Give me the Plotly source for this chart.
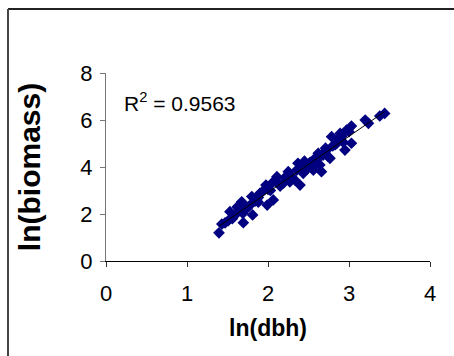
import numpy as np
import plotly.graph_objects as go

# ln(dbh) and ln(biomass) values
ln_dbh = [1.395, 1.43, 1.47, 1.51, 1.53, 1.56, 1.59, 1.62, 1.65, 1.675, 1.69, 1.695,
          1.72, 1.74, 1.77, 1.80, 1.81, 1.84, 1.86, 1.88, 1.90, 1.93, 1.975, 1.99,
          2.00, 2.03, 2.065, 2.09, 2.11, 2.13, 2.15, 2.19, 2.21, 2.25, 2.27, 2.29,
          2.33, 2.355, 2.37, 2.395, 2.41, 2.435, 2.46, 2.48, 2.50, 2.52, 2.54, 2.56,
          2.58, 2.60, 2.62, 2.64, 2.66, 2.68, 2.70, 2.725, 2.74, 2.765, 2.785, 2.80,
          2.83, 2.85, 2.87, 2.89, 2.91, 2.95, 2.97, 3.00, 3.03, 3.03, 3.20, 3.24,
          3.38, 3.44, 1.62, 1.88, 2.06, 2.23, 2.45, 2.57, 2.71, 2.93]
ln_biomass = [1.20, 1.57, 1.62, 1.72, 2.10, 1.80, 1.96, 2.05, 2.20, 2.52, 2.03, 1.63,
              2.30, 2.24, 2.35, 2.74, 1.96, 2.55, 2.60, 2.70, 2.88, 2.95, 3.23, 2.38,
              3.05, 3.00, 2.60, 3.45, 3.59, 3.30, 3.19, 3.31, 3.55, 3.80, 3.37, 3.60,
              3.45, 3.87, 4.16, 3.23, 4.00, 3.73, 4.05, 3.90, 4.01, 4.20, 3.95, 3.87,
              4.37, 4.30, 4.58, 4.09, 3.80, 4.50, 4.62, 4.72, 4.45, 4.37, 5.29, 4.90,
              4.95, 5.01, 5.20, 5.43, 5.30, 4.72, 5.57, 5.50, 5.74, 5.01, 6.00, 5.86,
              6.17, 6.28, 2.30, 2.50, 3.35, 3.60, 4.25, 4.15, 4.80, 5.05]

x_ticks = [0, 1, 2, 3, 4]
y_ticks = [0, 2, 4, 6, 8]
r2_text = "R<sup>2</sup> = 0.9563"

x = np.array(ln_dbh)
y = np.array(ln_biomass)
slope, intercept = np.polyfit(x, y, 1)
fit_x = np.array([x.min(), x.max()])
fit_y = slope * fit_x + intercept

fig = go.Figure()
fig.add_trace(go.Scatter(x=ln_dbh, y=ln_biomass, mode="markers",
                         marker=dict(symbol="diamond", size=9, color="#000080",
                                     line=dict(width=0)),
                         showlegend=False))
fig.add_trace(go.Scatter(x=fit_x, y=fit_y, mode="lines",
                         line=dict(color="black", width=1), showlegend=False))

L, R, T, B = 106, 24, 73, 95
W, H = 454, 356
pw, ph = W - L - R, H - T - B

def px(xp):
    return (xp - L) / pw

def py(yp):
    return (H - B - yp) / ph

fig.add_shape(type="line", xref="paper", yref="paper",
              x0=px(8), x1=px(454), y0=py(9), y1=py(9),
              line=dict(color="#222222", width=2))
fig.add_shape(type="line", xref="paper", yref="paper",
              x0=px(8), x1=px(8), y0=py(9), y1=py(356),
              line=dict(color="#444444", width=2))

fig.add_annotation(x=px(122), y=py(102), xref="paper", yref="paper",
                   text=r2_text, showarrow=False, xanchor="left", yanchor="middle",
                   font=dict(family="Liberation Sans, Arial", size=21, color="black"))

fig.update_layout(
    width=W, height=H,
    margin=dict(l=L, r=R, t=T, b=B),
    paper_bgcolor="white", plot_bgcolor="white",
    font=dict(family="Liberation Sans, Arial", color="black"),
    xaxis=dict(range=[0, 4], tickvals=x_ticks, ticks="outside", ticklen=5,
               tickcolor="#333333", showline=True, linecolor="black", linewidth=1,
               showgrid=False, zeroline=False, tickfont=dict(size=22),
               ticklabelstandoff=8,
               title=dict(text="<b>ln(dbh)</b>", font=dict(size=23), standoff=14)),
    yaxis=dict(range=[0, 8], tickvals=y_ticks, ticks="outside", ticklen=5,
               tickcolor="#777777", showline=True, linecolor="#777777", linewidth=1,
               showgrid=False, zeroline=False, tickfont=dict(size=22),
               ticklabelstandoff=3,
               title=dict(text="<b>ln(biomass)</b>", font=dict(size=30), standoff=30)),
)

fig.write_html("out.html")
